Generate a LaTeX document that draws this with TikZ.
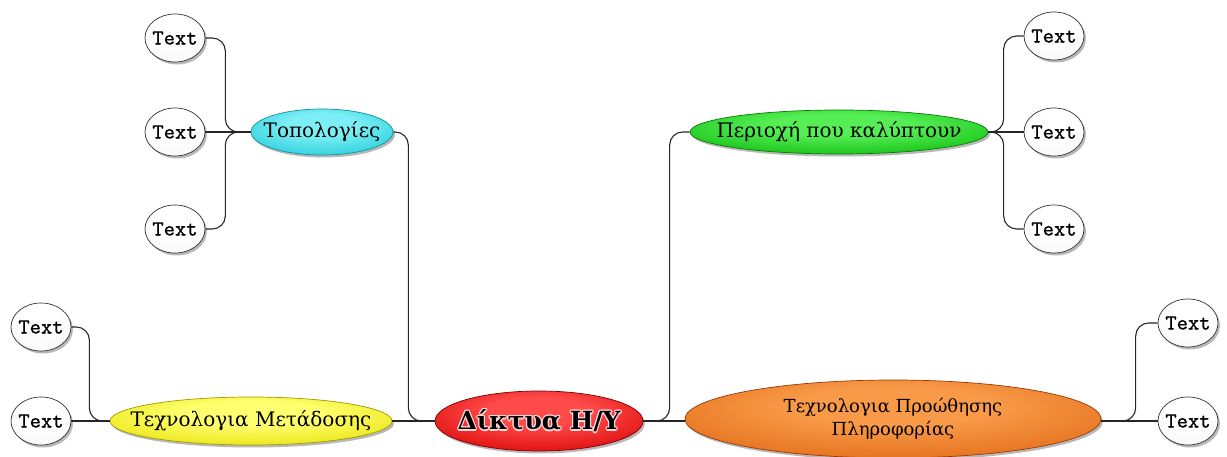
\documentclass[tikz,border=0pt]{standalone}
\usepackage{fontspec}
\setmainfont{DejaVu Serif}
\newfontfamily\txtfont[FakeBold=0.9]{lmmono10-regular.otf}
\usetikzlibrary{shapes.geometric,shadows}
\colorlet{glin}{white}\colorlet{glout}{white}\colorlet{gledge}{gray}
\pgfdeclareradialshading[glin,glout,gledge]{glossy}{\pgfpoint{0bp}{10bp}}{color(0bp)=(glin); color(12bp)=(glin); color(34bp)=(glout); color(50bp)=(gledge); color(70bp)=(gledge)}
\definecolor{cyin}{HTML}{7CEEF5}\definecolor{cyout}{HTML}{2ACFDB}\definecolor{cyedge}{HTML}{12909F}
\definecolor{grin}{HTML}{55EE55}\definecolor{grout}{HTML}{14C014}\definecolor{gredge}{HTML}{087A08}
\definecolor{rdin}{HTML}{FF4A4A}\definecolor{rdout}{HTML}{DC0A0A}\definecolor{rdedge}{HTML}{7E0000}
\definecolor{ylin}{HTML}{FFFF70}\definecolor{ylout}{HTML}{EAE410}\definecolor{yledge}{HTML}{A09A00}
\definecolor{orin}{HTML}{F89A48}\definecolor{orout}{HTML}{E46E1A}\definecolor{oredge}{HTML}{983A06}
\definecolor{whin}{HTML}{FFFFFF}\definecolor{whout}{HTML}{F8F8F8}\definecolor{whedge}{HTML}{C8C8C8}
\newcommand{\zw}[1]{\makebox[0pt][c]{#1}}
\newcommand{\glowtxt}[1]{%
  {\color{white!85!red}%
  \zw{\kern2.4pt#1}\zw{#1\kern2.4pt}\zw{\raisebox{1.2pt}{#1}}\zw{\raisebox{-1.2pt}{#1}}%
  \zw{\kern1.8pt\raisebox{0.9pt}{#1}}\zw{#1\kern1.8pt\raisebox{0.9pt}{}}%
  \zw{\kern1.8pt\raisebox{-0.9pt}{#1}}\zw{\raisebox{-0.9pt}{#1}\kern1.8pt}%
  \zw{\raisebox{0.9pt}{#1}\kern1.8pt}}%
  \zw{#1}}
\tikzset{
  gl/.code n args={3}{\colorlet{glin}{#1}\colorlet{glout}{#2}\colorlet{gledge}{#3}\tikzset{shading=glossy}},
  bubble/.style={ellipse, inner sep=0pt, line width=0.7pt,
    drop shadow={shadow xshift=2pt, shadow yshift=-2.5pt, opacity=0.28, fill=black}},
  textnode/.style={bubble, draw=black!80, gl={whin}{whout}{whedge},
    minimum width=60, minimum height=48, font=\txtfont\fontsize{21.5}{23}\selectfont},
  branch/.style={bubble, font=\fontsize{20}{24}\selectfont, align=center},
  link/.style={draw=black!85, line width=1.1pt, rounded corners=13pt},
}
\begin{document}
\begin{tikzpicture}[x=1pt,y=-1pt]
\useasboundingbox (0,0) rectangle (1227,457);
% nodes
\node[branch, draw=cyedge, gl={cyin}{cyout}{cyedge}, minimum width=142, minimum height=46] (topo) at (322,132) {\zw{Τοπολογίες}};
\node[branch, draw=gredge, gl={grin}{grout}{gredge}, minimum width=298, minimum height=44] (area) at (839,132) {\zw{Περιοχή που καλύπτουν}};
\node[branch, draw=yledge, gl={ylin}{ylout}{yledge}, minimum width=282, minimum height=48] (trans) at (251,421) {\zw{Τεχνολογια Μετάδοσης}};
\node[branch, draw=rdedge, gl={rdin}{rdout}{rdedge}, minimum width=208, minimum height=60, font=\bfseries\fontsize{25}{28}\selectfont] (net) at (539,421) {\glowtxt{Δίκτυα Η/Υ}};
\node[branch, draw=oredge, gl={orin}{orout}{oredge}, minimum width=416, minimum height=78, font=\fontsize{18}{25}\selectfont] (fwd) at (893,419) {\zw{\begin{tabular}{@{}c@{}}Τεχνολογια Προώθησης\\[-2pt]Πληροφορίας\end{tabular}}};
\node[textnode] (tl1) at (175,38) {\zw{Text}};
\node[textnode] (tl2) at (175,132) {\zw{Text}};
\node[textnode] (tl3) at (175,229) {\zw{Text}};
\node[textnode] (tr1) at (1054,36) {\zw{Text}};
\node[textnode] (tr2) at (1054,132) {\zw{Text}};
\node[textnode] (tr3) at (1054,229) {\zw{Text}};
\node[textnode] (bl1) at (41,327) {\zw{Text}};
\node[textnode] (bl2) at (41,421) {\zw{Text}};
\node[textnode] (br1) at (1188,323) {\zw{Text}};
\node[textnode] (br2) at (1188,421) {\zw{Text}};
% connectors
\draw[link] (tl1.east) -- ++(20,0) |- (topo.west);
\draw[link] (tl2.east) -- (topo.west);
\draw[link] (tl3.east) -- ++(20,0) |- (topo.west);
\draw[link] (tr1.west) -- ++(-20,0) |- (area.east);
\draw[link] (tr2.west) -- (area.east);
\draw[link] (tr3.west) -- ++(-20,0) |- (area.east);
\draw[link] (topo.east) -- ++(15,0) |- (net.west);
\draw[link] (trans.east) -- (net.west);
\draw[link] (area.west) -- ++(-20,0) |- (net.east);
\draw[link] (net.east) -- (net.east -| fwd.west);
\draw[link] (bl1.east) -- ++(18,0) |- (trans.west);
\draw[link] (bl2.east) -- (trans.west);
\draw[link] (br1.west) -- ++(-22,0) |- (br2.west -| fwd.east);
\draw[link] (br2.west) -- (br2.west -| fwd.east);
\end{tikzpicture}
\end{document}
